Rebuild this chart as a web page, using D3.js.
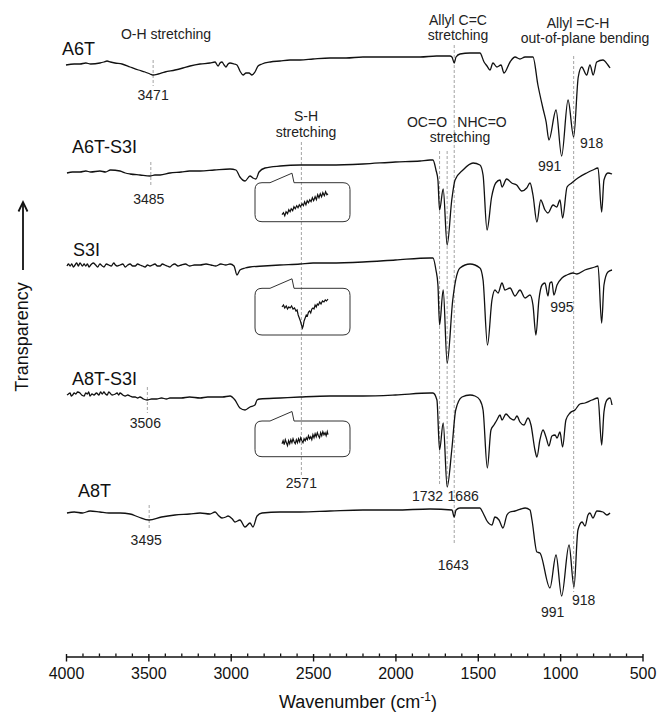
<!DOCTYPE html>
<html>
<head>
<meta charset="utf-8">
<script src="https://cdn.jsdelivr.net/npm/d3@7"></script>
<style>
  body { margin: 0; background: #fff; }
  svg { font-family: "Liberation Sans", Arial, sans-serif; }
</style>
</head>
<body>
<svg id="chart"></svg>
<script>
// FTIR spectra, [wavenumber (cm-1), relative transmittance (a.u.)]
const a6t = [[4000,-5],[3950,-4],[3915,-4],[3880,-3],[3850,-4],[3794,-3],[3770,-2],[3751,-1],[3730,-2],[3703,-3],[3660,-4],[3611,-7],[3560,-10],[3520,-12],[3490,-14],[3472,-15],[3440,-14],[3399,-12],[3338,-10],[3290,-8],[3247,-6],[3186,-4],[3126,-3],[3095,-2],[3077,-6],[3065,-3],[3053,-2],[3040,-5],[3029,-7],[3016,-4],[3004,-3],[2980,-4],[2962,-5],[2944,-11],[2925,-15],[2907,-13],[2889,-13],[2871,-15],[2853,-12],[2834,-6],[2810,-4],[2760,-2],[2701,-1],[2640,0],[2579,0],[2500,1],[2397,2],[2300,2],[2197,3],[2100,3],[1972,3],[1850,3],[1750,4],[1669,4],[1657,3],[1643,-3],[1632,3],[1608,6],[1547,7],[1487,7],[1462,-2],[1444,-6],[1426,-10],[1408,-3],[1384,-7],[1359,-5],[1341,-13],[1304,-2],[1274,3],[1244,1],[1213,3],[1165,3],[1135,-25],[1102,-50],[1085,-62],[1068,-80],[1025,-50],[991,-96],[952,-40],[918,-77],[890,-17],[869,-7],[839,-15],[819,-5],[799,-15],[778,-2],[740,0],[710,-5],[697,-8]];

const a6tS3i = [[3994,-3],[3960,-2],[3915,-2],[3880,-1],[3850,-2],[3794,-1],[3760,-2],[3730,0],[3672,-1],[3640,-3],[3611,-4],[3551,-5],[3490,-6],[3460,-5],[3429,-5],[3369,-3],[3300,-2],[3250,-1],[3186,-1],[3100,0],[3004,1],[2968,0],[2944,-7],[2913,-11],[2883,-6],[2865,-8],[2847,-9],[2828,-2],[2792,2],[2700,4],[2579,5],[2400,5],[2197,6],[2000,8],[1850,9],[1790,10],[1772,10],[1754,0],[1742,-10],[1732,-40],[1710,-19],[1686,-75],[1658,-30],[1638,-10],[1590,0],[1529,7],[1487,5],[1468,-5],[1444,-60],[1416,-27],[1391,-13],[1365,-10],[1353,-17],[1325,-9],[1294,-13],[1264,-15],[1233,-21],[1203,-18],[1183,-13],[1165,-25],[1141,-52],[1118,-30],[1092,-40],[1074,-43],[1043,-35],[1021,-37],[1001,-30],[985,-48],[958,-17],[930,-13],[892,-8],[839,-3],[801,0],[770,2],[748,-42],[734,-10],[710,-3],[685,-4]];

const s3i = [[3994,-1],[3985,1],[3975,-1],[3965,1],[3955,-2],[3945,0],[3935,2],[3925,-1],[3915,2],[3900,-1],[3890,1],[3880,-1],[3870,1],[3860,-2],[3850,0],[3835,2],[3820,0],[3808,-2],[3794,1],[3780,-1],[3770,-2],[3755,1],[3740,0],[3725,-1],[3710,2],[3700,0],[3690,-1],[3672,0],[3655,1],[3640,-2],[3625,0],[3611,1],[3595,-1],[3580,-1],[3565,1],[3551,0],[3535,-1],[3520,-2],[3505,0],[3490,-1],[3475,0],[3460,1],[3445,-1],[3429,-1],[3415,1],[3400,0],[3385,-1],[3369,-2],[3355,0],[3340,1],[3320,-1],[3300,0],[3275,1],[3250,-1],[3220,0],[3186,0],[3150,1],[3120,0],[3090,-1],[3060,1],[3030,0],[3004,1],[2980,-1],[2962,-10],[2944,-5],[2913,-3],[2883,-2],[2800,-1],[2701,0],[2579,1],[2500,2],[2397,2],[2197,3],[2000,5],[1790,7],[1772,7],[1754,-5],[1742,-20],[1732,-60],[1710,-25],[1686,-98],[1652,-35],[1634,-15],[1608,-3],[1547,1],[1487,-3],[1468,-15],[1441,-80],[1414,-35],[1396,-25],[1377,-28],[1353,-18],[1335,-25],[1304,-23],[1274,-31],[1244,-25],[1213,-33],[1183,-30],[1165,-40],[1147,-70],[1129,-35],[1110,-20],[1092,-18],[1074,-31],[1062,-18],[1050,-17],[1038,-30],[1019,-20],[989,-13],[959,-10],[923,-8],[898,-9],[850,-5],[789,-2],[770,-1],[748,-58],[734,-20],[710,-7],[685,-5]];

const a8tS3i = [[3994,1],[3985,2],[3975,3],[3968,0],[3960,1],[3950,3],[3940,2],[3930,4],[3915,3],[3905,1],[3890,0],[3880,3],[3870,2],[3862,4],[3854,0],[3842,2],[3830,1],[3815,3],[3800,1],[3790,4],[3780,2],[3770,4],[3760,2],[3750,1],[3740,4],[3733,3],[3720,1],[3700,2],[3690,3],[3680,1],[3672,3],[3655,1],[3640,0],[3625,1],[3611,0],[3595,-1],[3580,-1],[3565,-2],[3551,-1],[3530,-3],[3508,-4],[3480,-3],[3450,-3],[3420,-2],[3390,-3],[3369,-2],[3330,-2],[3300,-2],[3250,-1],[3186,-2],[3140,-1],[3100,-1],[3050,-1],[3004,0],[2974,-4],[2944,-12],[2913,-14],[2883,-11],[2853,-9],[2840,-4],[2822,-3],[2700,-2],[2579,-1],[2397,0],[2197,0],[2000,1],[1790,3],[1772,3],[1748,-4],[1732,-54],[1710,-27],[1686,-91],[1658,-54],[1634,-14],[1596,-1],[1547,1],[1517,0],[1487,-4],[1468,-14],[1442,-72],[1420,-34],[1402,-29],[1384,-24],[1365,-19],[1353,-24],[1329,-18],[1304,-22],[1280,-24],[1262,-20],[1244,-26],[1220,-29],[1195,-22],[1177,-29],[1153,-54],[1141,-61],[1123,-44],[1104,-34],[1086,-41],[1068,-50],[1050,-40],[1031,-39],[1019,-42],[1001,-36],[985,-51],[965,-24],[940,-17],[910,-14],[880,-8],[849,-7],[807,-4],[770,-2],[748,-49],[734,-16],[716,-4],[697,-2],[685,-9]];

const a8t = [[3994,-1],[3950,0],[3900,-1],[3854,1],[3794,0],[3740,-1],[3672,-1],[3611,-2],[3560,-5],[3496,-8],[3420,-5],[3338,-3],[3250,-2],[3186,-1],[3126,-2],[3095,0],[3077,-3],[3053,-6],[3029,-5],[3016,-4],[2990,-7],[2974,-10],[2944,-8],[2913,-15],[2883,-11],[2865,-15],[2840,-4],[2810,-1],[2700,0],[2579,0],[2397,1],[2197,2],[2000,2],[1790,3],[1657,2],[1643,-5],[1632,2],[1608,4],[1487,4],[1468,-1],[1444,-9],[1414,-13],[1396,-5],[1371,-8],[1347,-16],[1323,-3],[1304,0],[1274,1],[1238,3],[1213,4],[1183,2],[1171,-8],[1141,-40],[1123,-41],[1062,-76],[1025,-43],[991,-84],[946,-33],[916,-75],[892,-18],[867,-10],[849,-14],[831,-3],[819,-1],[801,-6],[777,1],[740,0],[716,-3],[697,-1]];

// S-H region close-ups (inset boxes)
const insetA6tS3i = [[2680,7],[2672,9],[2665,6],[2658,10],[2650,8],[2643,12],[2636,10],[2630,13],[2622,11],[2615,15],[2608,13],[2600,16],[2593,14],[2586,17],[2579,15],[2571,18],[2564,16],[2557,20],[2550,17],[2543,21],[2536,19],[2529,22],[2522,20],[2515,24],[2508,21],[2500,25],[2493,22],[2486,27],[2479,24],[2472,28],[2465,25],[2458,29],[2450,26],[2443,30],[2436,27],[2430,28]];
const insetS3i = [[2680,28],[2672,30],[2665,27],[2657,29],[2650,26],[2643,28],[2636,27],[2628,29],[2620,26],[2612,27],[2604,24],[2598,25],[2592,20],[2586,17],[2580,14],[2574,10],[2569,7],[2565,9],[2560,14],[2554,17],[2548,20],[2542,19],[2536,23],[2530,24],[2524,22],[2518,26],[2512,27],[2506,26],[2500,30],[2494,28],[2488,31],[2482,30],[2475,33],[2468,31],[2460,34],[2452,33],[2445,35],[2438,34],[2430,36]];
const insetA8tS3i = [[2680,13],[2674,16],[2668,12],[2662,17],[2656,14],[2650,11],[2644,16],[2638,13],[2632,17],[2626,14],[2620,18],[2614,15],[2608,13],[2602,17],[2596,14],[2590,18],[2584,15],[2578,19],[2572,16],[2566,14],[2560,18],[2554,16],[2548,19],[2542,17],[2536,21],[2530,18],[2524,20],[2518,17],[2512,22],[2506,19],[2500,23],[2494,20],[2488,24],[2482,21],[2476,19],[2470,24],[2464,21],[2458,25],[2452,22],[2446,24],[2440,21],[2434,25],[2430,22]];

const sampleNames = ["A6T", "A6T-S3I", "S3I", "A8T-S3I", "A8T"];
const spectra = [a6t, a6tS3i, s3i, a8tS3i, a8t];
const stackOffsets = [596, 486, 391, 260, 144];
const xTicks = [4000, 3500, 3000, 2500, 2000, 1500, 1000, 500];

// Chart Dimensions
const width = 657;
const height = 712;
const axisY = 656.5;

const svg = d3.select("#chart").attr("width", width).attr("height", height);

// Scales
const xScale = d3.scaleLinear().domain([4000, 500]).range([66, 642.5]);
const yScale = d3.scaleLinear().domain([0, 656]).range([656, 0]);

// Guide lines (dashed)
const guides = [
  { wn: 3471, y0: 60, y1: 86 },
  { wn: 3485, y0: 162, y1: 187 },
  { wn: 3506, y0: 387, y1: 413 },
  { wn: 3495, y0: 505, y1: 529 },
  { wn: 2571, y0: 142, y1: 477 },
  { wn: 1732, y0: 151, y1: 484 },
  { wn: 1686, y0: 151, y1: 484 },
  { wn: 1643, y0: 45, y1: 543 },
  { wn: 918, y0: 56, y1: 592 }
];
svg.append("g")
  .selectAll("line")
  .data(guides)
  .enter()
  .append("line")
  .attr("x1", (d) => xScale(d.wn))
  .attr("x2", (d) => xScale(d.wn))
  .attr("y1", (d) => d.y0)
  .attr("y2", (d) => d.y1)
  .attr("stroke", "#9a9a9a")
  .attr("stroke-width", 0.9)
  .attr("stroke-dasharray", "3,2");

// Spectra
spectra.forEach((data, i) => {
  const line = d3.line()
    .x((d) => xScale(d[0]))
    .y((d) => yScale(stackOffsets[i] + d[1]))
    .curve(d3.curveMonotoneX);
  svg.append("path")
    .datum(data)
    .attr("d", line)
    .attr("fill", "none")
    .attr("stroke", "#111")
    .attr("stroke-width", 1.3)
    .attr("stroke-linejoin", "round");
});

// Sample names
const namePos = [[62, 55], [72, 153], [73, 256], [72, 385], [78, 497]];
svg.append("g")
  .selectAll("text")
  .data(sampleNames)
  .enter()
  .append("text")
  .attr("x", (d, i) => namePos[i][0])
  .attr("y", (d, i) => namePos[i][1])
  .attr("font-size", 18)
  .attr("fill", "#111")
  .text((d) => d);

// Inset boxes with S-H close-ups
const insets = [
  { data: insetA6tS3i, x: 255, y: 182.7, w: 95, h: 39 },
  { data: insetS3i, x: 255, y: 288.3, w: 95, h: 46.7 },
  { data: insetA8tS3i, x: 255, y: 421, w: 95, h: 35.7 }
];
const insetX = d3.scaleLinear().domain([2680, 2430]).range([282, 328]);

function boxPath(b) {
  const r = 7, x0 = b.x, y0 = b.y, x1 = b.x + b.w, y1 = b.y + b.h;
  return `M${x0 + 39},${y0} L${x1 - r},${y0} Q${x1},${y0} ${x1},${y0 + r} L${x1},${y1 - r} Q${x1},${y1} ${x1 - r},${y1} L${x0 + r},${y1} Q${x0},${y1} ${x0},${y1 - r} L${x0},${y0 + r} Q${x0},${y0} ${x0 + r},${y0} L${x0 + 15},${y0} L${x0 + 37},${y0 - 9.5} Z`;
}

insets.forEach((b) => {
  svg.append("path")
    .attr("d", boxPath(b))
    .attr("fill", "none")
    .attr("stroke", "#333")
    .attr("stroke-width", 1);
  const insetY = d3.scaleLinear().domain([0, b.h]).range([b.y + b.h, b.y]);
  svg.append("path")
    .datum(b.data)
    .attr("d", d3.line().x((d) => insetX(d[0])).y((d) => insetY(d[1])))
    .attr("fill", "none")
    .attr("stroke", "#111")
    .attr("stroke-width", 1.2);
});

// Peak labels
const peakLabels = [
  { t: "3471", wn: 3471, dx: 0, y: 100 },
  { t: "3485", wn: 3485, dx: -2, y: 204 },
  { t: "3506", wn: 3506, dx: -2, y: 428 },
  { t: "3495", wn: 3495, dx: -3, y: 545 },
  { t: "2571", wn: 2571, dx: 0, y: 488 },
  { t: "1732", wn: 1732, dx: -12, y: 501 },
  { t: "1686", wn: 1686, dx: 16, y: 501 },
  { t: "1643", wn: 1643, dx: -1, y: 570 },
  { t: "991", wn: 991, dx: -12, y: 171 },
  { t: "918", wn: 918, dx: 18, y: 148 },
  { t: "995", wn: 995, dx: 1, y: 312 },
  { t: "991", wn: 991, dx: -9, y: 617 },
  { t: "918", wn: 918, dx: 10, y: 605 }
];
svg.append("g")
  .selectAll("text")
  .data(peakLabels)
  .enter()
  .append("text")
  .attr("x", (d) => xScale(d.wn) + d.dx)
  .attr("y", (d) => d.y)
  .attr("text-anchor", "middle")
  .attr("font-size", 14)
  .attr("fill", "#222")
  .text((d) => d.t);

// Band assignments
const bandNotes = [
  { t: "O-H stretching", x: 166, y: 39 },
  { t: "S-H", x: 306, y: 121 },
  { t: "stretching", x: 306, y: 137 },
  { t: "Allyl C=C", x: 458, y: 25 },
  { t: "stretching", x: 458, y: 40 },
  { t: "Allyl =C-H", x: 578, y: 28 },
  { t: "out-of-plane bending", x: 585, y: 43 },
  { t: "OC=O", x: 427, y: 127 },
  { t: "NHC=O", x: 482, y: 127 },
  { t: "stretching", x: 460, y: 142 }
];
svg.append("g")
  .selectAll("text")
  .data(bandNotes)
  .enter()
  .append("text")
  .attr("x", (d) => d.x)
  .attr("y", (d) => d.y)
  .attr("text-anchor", "middle")
  .attr("font-size", 14)
  .attr("fill", "#222")
  .text((d) => d.t);

// X Axis
const xAxis = d3.axisBottom(xScale)
  .tickValues(xTicks)
  .tickSizeInner(5)
  .tickSizeOuter(0)
  .tickPadding(6)
  .tickFormat(d3.format("d"));
const gx = svg.append("g")
  .attr("transform", `translate(0, ${axisY})`)
  .call(xAxis);
gx.attr("font-family", null).attr("font-size", null);
gx.select(".domain").attr("stroke", "#111").attr("stroke-width", 1.6);
gx.selectAll(".tick line").attr("y1", -2.5).attr("stroke", "#111").attr("stroke-width", 1.4);
gx.selectAll(".tick text").attr("font-size", 16).attr("fill", "#111");

const minorTicks = d3.range(3900, 500, -100).filter((v) => v % 500 !== 0);
svg.append("g")
  .selectAll("line")
  .data(minorTicks)
  .enter()
  .append("line")
  .attr("x1", (d) => xScale(d) + 0.5)
  .attr("x2", (d) => xScale(d) + 0.5)
  .attr("y1", axisY)
  .attr("y2", axisY - 3)
  .attr("stroke", "#111")
  .attr("stroke-width", 1.3);

// Axis title
const title = svg.append("text")
  .attr("x", 358)
  .attr("y", 708)
  .attr("text-anchor", "middle")
  .attr("font-size", 18)
  .attr("fill", "#111");
title.append("tspan").text("Wavenumber (cm");
title.append("tspan").attr("font-size", 12).attr("dy", -7).text("-1");
title.append("tspan").attr("dy", 7).text(")");

// Y label with arrow
svg.append("text")
  .attr("transform", "translate(28, 337) rotate(-90)")
  .attr("text-anchor", "middle")
  .attr("font-size", 18)
  .attr("fill", "#111")
  .text("Transparency");
svg.append("line")
  .attr("x1", 23).attr("x2", 23)
  .attr("y1", 270).attr("y2", 203)
  .attr("stroke", "#111").attr("stroke-width", 1.8);
svg.append("polyline")
  .attr("points", "18.5,211.5 23,202 27.5,211.5")
  .attr("fill", "none")
  .attr("stroke", "#111")
  .attr("stroke-width", 1.8);
</script>
</body>
</html>
